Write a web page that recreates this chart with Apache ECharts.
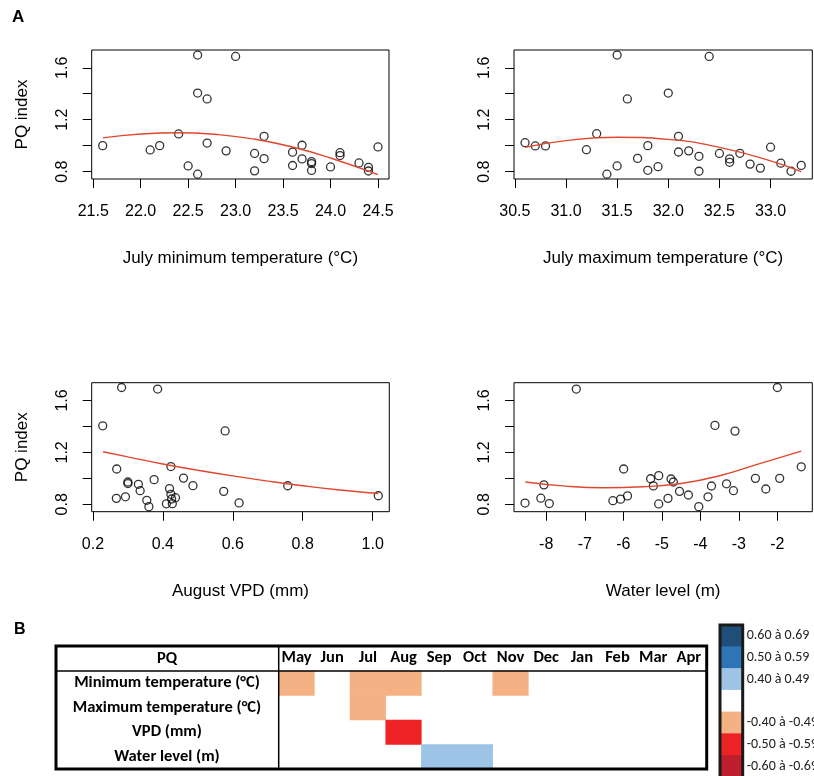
<!DOCTYPE html>
<html><head><meta charset="utf-8">
<script src="https://cdn.jsdelivr.net/npm/echarts@6/dist/echarts.min.js"></script>
<style>html,body{margin:0;padding:0;background:#fff}#c{width:814px;height:776px}</style>
</head><body><div id="c"></div>
<script>
// ---------- Panel A data ----------
const julyMinTemp = [21.6,22.1,22.2,22.4,22.5,22.6,22.6,22.6,22.7,22.7,22.9,23.0,23.2,23.2,23.3,23.3,23.6,23.6,23.7,23.7,23.8,23.8,23.8,24.0,24.1,24.1,24.3,24.4,24.4,24.5];
const pqMinTemp   = [1.00,0.967,1.00,1.09,0.844,1.698,1.405,0.78,1.36,1.02,0.96,1.687,0.94,0.806,1.072,0.90,0.95,0.847,1.003,0.898,0.877,0.862,0.809,0.836,0.946,0.924,0.867,0.833,0.805,0.99];
const fitMinTempX = [21.6,22.0,22.4,22.8,23.2,23.6,24.0,24.5];
const fitMinTempY = [1.06,1.09,1.10,1.086,1.05,0.99,0.905,0.777];

const julyMaxTemp = [30.6,30.7,30.8,31.2,31.3,31.4,31.5,31.5,31.6,31.7,31.8,31.8,31.9,32.0,32.1,32.1,32.2,32.3,32.3,32.4,32.5,32.6,32.6,32.7,32.8,32.9,33.0,33.1,33.2,33.3];
const pqMaxTemp   = [1.023,0.998,0.998,0.969,1.092,0.78,1.698,0.844,1.36,0.902,1.0,0.81,0.838,1.405,1.072,0.951,0.96,0.918,0.803,1.687,0.94,0.898,0.872,0.941,0.858,0.827,0.988,0.865,0.803,0.848];
const fitMaxTempX = [30.6,31.0,31.5,32.0,32.5,33.0,33.3];
const fitMaxTempY = [0.987,1.039,1.065,1.048,0.987,0.883,0.80];

const augustVPD = [0.228,0.268,0.267,0.282,0.293,0.300,0.300,0.330,0.335,0.354,0.360,0.375,0.385,0.410,0.419,0.423,0.423,0.425,0.427,0.436,0.459,0.486,0.574,0.578,0.618,0.757,1.016];
const pqVPD     = [1.405,1.072,0.846,1.70,0.858,0.972,0.960,0.954,0.905,0.831,0.782,0.990,1.688,0.804,0.921,1.091,0.877,0.841,0.805,0.851,1.002,0.944,0.900,1.365,0.811,0.943,0.866];
const fitVPDX = [0.229,0.3,0.4,0.5,0.6,0.7,0.8,0.9,1.016];
const fitVPDY = [1.205,1.165,1.111,1.063,1.019,0.979,0.943,0.912,0.883];

const waterLevel = [-8.55,-8.14,-8.06,-7.92,-7.22,-6.27,-6.07,-5.99,-5.89,-5.29,-5.22,-5.08,-5.08,-4.84,-4.76,-4.70,-4.54,-4.31,-4.04,-3.80,-3.71,-3.62,-3.32,-3.14,-3.10,-2.57,-2.30,-2.00,-1.94,-1.38];
const pqWater    = [0.810,0.847,0.950,0.806,1.688,0.828,0.840,1.072,0.865,0.997,0.942,1.021,0.803,0.846,0.995,0.972,0.900,0.872,0.782,0.858,0.941,1.408,0.958,0.905,1.364,1.000,0.918,1.700,1.000,1.089];
const fitWaterX = [-8.54,-7.5,-6.5,-5.5,-4.5,-3.5,-2.5,-1.38];
const fitWaterY = [0.972,0.94,0.928,0.935,0.96,1.02,1.11,1.21];

// tick values / labels
const yTicks = [0.8,1.0,1.2,1.4,1.6];
const yLabels = [0.8,1.2,1.6];
const xTicksMinT = [21.5,22.0,22.5,23.0,23.5,24.0,24.5];
const xTicksMaxT = [30.5,31.0,31.5,32.0,32.5,33.0];
const xTicksVPD = [0.2,0.4,0.6,0.8,1.0];
const xTicksWater = [-8,-7,-6,-5,-4,-3,-2];
const xTitles = ['July minimum temperature (°C)','July maximum temperature (°C)','August VPD (mm)','Water level (m)'];
const yTitle = 'PQ index';

// ---------- Panel B data ----------
const months = ['May','Jun','Jul','Aug','Sep','Oct','Nov','Dec','Jan','Feb','Mar','Apr'];
const climateVars = ['Minimum temperature (°C)','Maximum temperature (°C)','VPD (mm)','Water level (m)'];
const corrMinTemp = [-0.45,null,-0.45,-0.45,null,null,-0.45,null,null,null,null,null];
const corrMaxTemp = [null,null,-0.45,null,null,null,null,null,null,null,null,null];
const corrVPD     = [null,null,null,-0.55,null,null,null,null,null,null,null,null];
const corrWater   = [null,null,null,null,0.45,0.45,null,null,null,null,null,null];
const classLabels = ['0.60 à 0.69','0.50 à 0.59','0.40 à 0.49','','-0.40 à -0.49','-0.50 à -0.59','-0.60 à -0.69'];
const classValues = [0.65,0.55,0.45,0,-0.45,-0.55,-0.65];
const classColors = ['#1F4E79','#2E75B6','#9DC3E6','#FFFFFF','#F4B183','#EE2326','#BE1E2D'];

// ---------- build ----------
const RF = 'Liberation Sans, Arial, sans-serif';
const TF = 'Carlito, "Open Sans", sans-serif';
const pairs = (xs, ys) => xs.map((x, i) => [x, ys[i]]);
const rng = (xs) => { const a = Math.min(...xs), b = Math.max(...xs), e = (b - a) * 0.04; return [a - e, b + e]; };
const allPQ = pqMinTemp.concat(pqMaxTemp, pqVPD, pqWater);
const yR = rng(allPQ);

const grids = [
  {left:91.7, top:50, width:297.3, height:129},
  {left:514, top:50, width:298.3, height:129},
  {left:91.7, top:382.7, width:297.6, height:129},
  {left:514, top:382.7, width:298.3, height:129}
].map(g => Object.assign(g, {show:true, borderColor:'#000', borderWidth:1, backgroundColor:'transparent'}));
grids.push({left:278.7, top:671, width:428, height:98});
grids.push({left:720, top:625, width:22.7, height:152});
grids.forEach(g => { g.outerBoundsMode = 'none'; g.containLabel = false; });

const xs = [julyMinTemp, julyMaxTemp, augustVPD, waterLevel];
const ys = [pqMinTemp, pqMaxTemp, pqVPD, pqWater];
const xticks = [xTicksMinT, xTicksMaxT, xTicksVPD, xTicksWater];
const fmts = [v => v.toFixed(1), v => v.toFixed(1), v => v.toFixed(1), v => String(Math.round(v))];
const fitX = [fitMinTempX, fitMaxTempX, fitVPDX, fitWaterX];
const fitY = [fitMinTempY, fitMaxTempY, fitVPDY, fitWaterY];

const xAxes = [], yAxes = [], series = [];
for (let i = 0; i < 4; i++) {
  const r = rng(xs[i]);
  xAxes.push({gridIndex:i, type:'value', min:r[0], max:r[1],
    axisLine:{show:false}, splitLine:{show:false},
    axisTick:{show:true, inside:false, length:9, customValues:xticks[i], lineStyle:{color:'#000', width:1}},
    axisLabel:{customValues:xticks[i], formatter:fmts[i], margin:25, fontSize:16, color:'#000', fontFamily:RF},
    name:xTitles[i], nameLocation:'middle', nameGap:71, nameTextStyle:{fontSize:17, color:'#000', fontFamily:RF}});
  yAxes.push({gridIndex:i, type:'value', min:yR[0], max:yR[1],
    axisLine:{show:false}, splitLine:{show:false},
    axisTick:{show:true, inside:false, length:9, customValues:yTicks, lineStyle:{color:'#000', width:1}},
    axisLabel:{customValues:yLabels, formatter:v => v.toFixed(1), rotate:90, margin:21, fontSize:16, color:'#000', fontFamily:RF},
    name:(i % 2 === 0) ? yTitle : '', nameLocation:'middle', nameGap:61, nameRotate:90,
    nameTextStyle:{fontSize:17, color:'#000', fontFamily:RF}});
  series.push({type:'scatter', xAxisIndex:i, yAxisIndex:i, data:pairs(xs[i], ys[i]), symbol:'circle', symbolSize:8,
    itemStyle:{color:'rgba(0,0,0,0)', borderColor:'#000', borderWidth:1.3}, silent:true, z:3});
}
for (let i = 0; i < 4; i++) {
  series.push({type:'line', xAxisIndex:i, yAxisIndex:i, data:pairs(fitX[i], fitY[i]), smooth:true, showSymbol:false,
    lineStyle:{color:'#E0472C', width:1.4}, silent:true, z:4});
}
// table heatmap
xAxes.push({gridIndex:4, type:'category', data:months, position:'top',
  axisLine:{show:false}, axisTick:{show:false}, splitLine:{show:false},
  axisLabel:{interval:0, hideOverlap:false, margin:5, fontSize:16.5, fontWeight:'bold', color:'#000', fontFamily:TF}});
yAxes.push({gridIndex:4, type:'category', data:climateVars, inverse:true,
  axisLine:{show:false}, axisTick:{show:false}, splitLine:{show:false},
  axisLabel:{interval:0, margin:111.7, align:'center', fontSize:16.5, fontWeight:'bold', color:'#000', fontFamily:TF}});
const rows = [corrMinTemp, corrMaxTemp, corrVPD, corrWater];
const cells = [];
rows.forEach((row, r) => row.forEach((v, m) => { if (v !== null) cells.push([m, r, v]); }));
series.push({type:'heatmap', xAxisIndex:4, yAxisIndex:4, data:cells, itemStyle:{borderWidth:0}, silent:true});
// legend heatmap
xAxes.push({gridIndex:5, type:'category', data:[''], show:false});
yAxes.push({gridIndex:5, type:'category', data:classLabels, inverse:true, position:'right',
  axisLine:{show:false}, axisTick:{show:false}, splitLine:{show:false},
  axisLabel:{interval:0, margin:4, fontSize:14, color:'#222', fontFamily:TF}});
series.push({type:'heatmap', xAxisIndex:5, yAxisIndex:5, data:classValues.map((v, i) => [0, i, v]), itemStyle:{borderWidth:0}, silent:true});

const pieces = [
  {gte:0.6, lte:0.7}, {gte:0.5, lt:0.6}, {gte:0.4, lt:0.5}, {gt:-0.4, lt:0.4},
  {gt:-0.5, lte:-0.4}, {gt:-0.6, lte:-0.5}, {gte:-0.7, lte:-0.6}
].map((p, i) => Object.assign(p, {color:classColors[i]}));

const option = {
  animation:false,
  backgroundColor:'#fff',
  grid:grids, xAxis:xAxes, yAxis:yAxes, series:series,
  visualMap:{type:'piecewise', show:false, seriesIndex:[8,9], dimension:2, pieces:pieces},
  graphic:[
    {type:'text', left:12, top:9, z:100, style:{text:'A', font:'bold 17px ' + RF, fill:'#000'}},
    {type:'text', left:14, top:622, z:100, style:{text:'B', font:'bold 16px ' + RF, fill:'#000'}},
    {type:'text', x:167, y:659, z:100, style:{text:'PQ', font:'bold 16.5px ' + TF, fill:'#000', align:'center', verticalAlign:'middle'}},
    {type:'rect', z:100, shape:{x:56, y:646, width:650.7, height:123}, style:{fill:'none', stroke:'#000', lineWidth:3}},
    {type:'line', z:100, shape:{x1:56, y1:671, x2:706.7, y2:671}, style:{stroke:'#000', lineWidth:1.5}},
    {type:'line', z:100, shape:{x1:278.7, y1:646, x2:278.7, y2:769}, style:{stroke:'#000', lineWidth:1.5}},
    {type:'rect', z:100, shape:{x:720, y:625, width:22.7, height:156}, style:{fill:'none', stroke:'#1a1a1a', lineWidth:3}}
  ]
};
const chart = echarts.init(document.getElementById('c'), null, {renderer:'canvas'});
chart.setOption(option);
</script>
</body></html>
